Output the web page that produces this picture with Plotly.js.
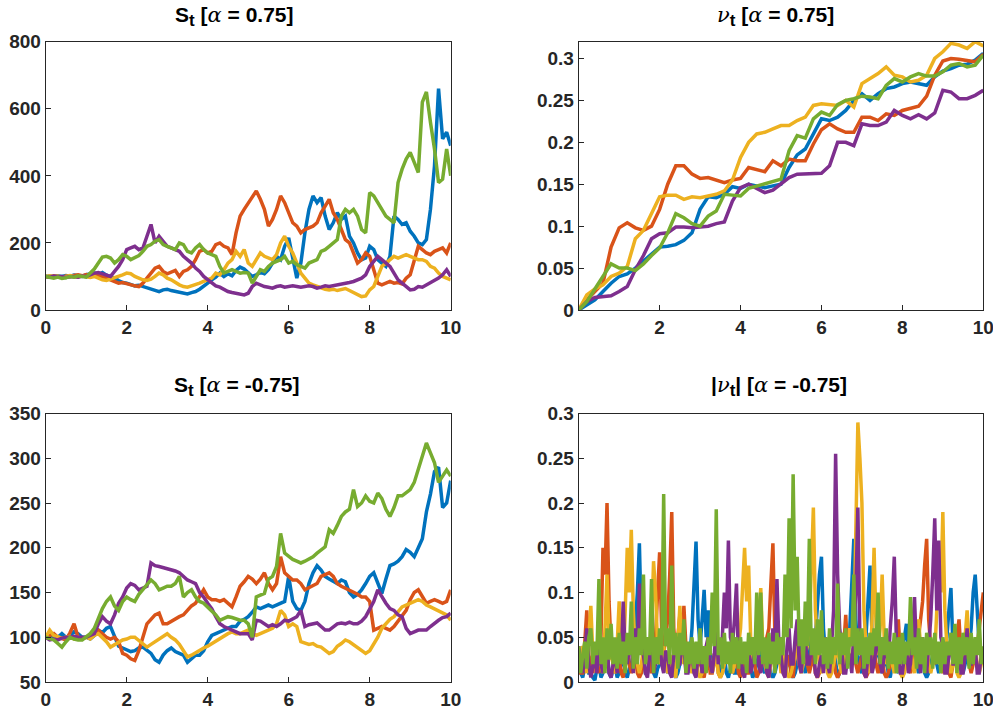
<!DOCTYPE html>
<html><head><meta charset="utf-8">
<script src="https://cdn.plot.ly/plotly-3.0.1.min.js"></script>
<style>html,body{margin:0;padding:0;background:#fff}#chart{width:993px;height:712px}</style>
</head><body><div id="chart"></div>
<script>
// time grid: S panels every 0.1, nu panel every 0.2, |nu| panel every 0.05 (t from 0 to 10)
const seriesNames = ['path 1','path 2','path 3','path 4','path 5'];
const colors = ['#0072BD','#D95319','#EDB120','#7E2F8E','#77AC30'];

// ---- S_t, alpha = 0.75 (dt = 0.1)
const sA_blue = [100,101,99,102,100,103,101,104,102,100,105, 108,110,106,112,104,100,95,88,82,80, 76,72,74,70,68,64,58,55,60,62, 58,56,54,50,48,52,55,62,70,80, 90,98,110,100,108,102,118,128,122,110, 100,105,112,108,120,140,160,150,190,215, 150,95,140,230,300,340,320,335,280,240, 260,290,270,280,220,200,170,150,155,190, 180,150,140,130,160,280,270,255,260,235, 220,200,195,210,300,430,660,510,530,490];
const sA_orange = [100,98,102,100,97,101,99,103,105,102,106, 104,108,102,100,96,90,85,80,82,78, 74,72,70,80,95,110,125,130,115,108, 112,118,100,115,120,130,150,175,180,170, 175,195,200,190,185,165,230,280,300,320, 340,355,330,300,250,270,300,340,320,290, 260,250,230,240,245,250,260,290,310,330, 290,270,240,210,200,170,140,150,170,160, 120,80,75,80,85,80,82,78,95,105, 150,190,180,170,165,175,180,185,170,200];
const sA_yellow = [100,102,99,101,98,100,103,100,98,101,99, 97,100,95,90,88,92,95,100,105,110, 108,100,95,90,88,92,100,110,105,95, 90,82,75,70,68,72,75,80,85,90, 95,110,105,120,140,150,175,160,180,140, 130,150,170,160,155,150,165,200,220,190, 170,140,110,95,80,75,70,65,62,60, 62,58,60,64,58,52,45,40,42,60, 70,100,130,140,150,160,155,160,165,160, 155,150,150,145,130,125,110,100,95,90];
const sA_purple = [100,98,101,99,100,97,99,100,98,101,100, 105,110,112,108,105,100,115,130,150,180, 185,190,180,185,220,255,200,220,205,190, 185,180,175,160,150,140,125,115,100,90, 80,72,68,60,55,52,50,48,45,50, 70,80,75,70,68,65,70,72,68,70, 72,70,68,70,72,70,65,68,72,70, 72,75,78,80,82,85,90,95,105,130, 145,160,150,140,130,110,90,80,70,60, 62,70,68,75,80,88,95,105,120,100];
const sA_green = [100,97,95,98,94,96,100,98,102,100,98, 110,122,140,158,160,155,140,150,165,160, 150,155,162,175,190,195,205,210,195,190, 185,180,200,195,175,170,185,195,180,170, 165,160,130,110,115,120,115,110,112,110, 80,100,120,115,130,140,145,150,160,140, 145,135,130,125,140,145,150,175,180,190, 200,210,280,300,290,300,280,240,230,350, 340,320,300,280,270,260,380,420,450,470, 440,410,620,650,560,480,380,390,480,400];

// ---- nu_t, alpha = 0.75 (dt = 0.2)
const nA_blue = [0,0.006,0.012,0.022,0.032,0.04,0.043,0.05,0.058,0.066,0.075,0.076,0.078,0.083,0.092,0.12,0.135,0.134,0.138,0.147,0.145,0.15,0.148,0.146,0.148,0.15,0.17,0.185,0.192,0.21,0.228,0.226,0.23,0.238,0.25,0.258,0.25,0.258,0.264,0.266,0.27,0.272,0.27,0.268,0.278,0.285,0.288,0.292,0.293,0.298,0.306];
const nA_orange = [0,0.012,0.022,0.032,0.075,0.098,0.104,0.098,0.095,0.1,0.12,0.15,0.172,0.172,0.162,0.157,0.158,0.155,0.152,0.155,0.157,0.17,0.168,0.165,0.178,0.172,0.18,0.178,0.178,0.198,0.215,0.222,0.216,0.212,0.212,0.23,0.23,0.226,0.234,0.232,0.238,0.24,0.243,0.255,0.28,0.297,0.3,0.299,0.298,0.296,0.305];
const nA_yellow = [0,0.018,0.025,0.03,0.04,0.044,0.052,0.085,0.095,0.115,0.135,0.137,0.137,0.132,0.135,0.134,0.136,0.138,0.142,0.155,0.182,0.2,0.21,0.212,0.216,0.22,0.22,0.226,0.23,0.244,0.246,0.245,0.244,0.25,0.242,0.27,0.276,0.282,0.29,0.28,0.278,0.272,0.274,0.28,0.3,0.308,0.318,0.316,0.312,0.32,0.315];
const nA_purple = [0,0.01,0.015,0.016,0.017,0.022,0.028,0.048,0.065,0.085,0.091,0.092,0.099,0.099,0.098,0.099,0.1,0.103,0.105,0.13,0.146,0.15,0.145,0.14,0.143,0.15,0.158,0.162,0.162,0.162,0.163,0.172,0.2,0.2,0.196,0.222,0.22,0.22,0.224,0.238,0.232,0.228,0.233,0.228,0.235,0.262,0.26,0.252,0.252,0.256,0.262];
const nA_green = [0,0.01,0.025,0.04,0.055,0.05,0.05,0.047,0.055,0.065,0.074,0.092,0.115,0.11,0.103,0.1,0.112,0.118,0.138,0.137,0.136,0.145,0.148,0.151,0.153,0.156,0.19,0.208,0.205,0.228,0.236,0.232,0.245,0.25,0.252,0.255,0.254,0.252,0.268,0.276,0.272,0.278,0.282,0.279,0.279,0.284,0.292,0.294,0.29,0.292,0.304];

// ---- S_t, alpha = -0.75 (dt = 0.1)
const sB_blue = [100,98,102,100,104,100,102,106,104,100,100, 98,102,108,105,110,112,100,90,88,86, 84,85,88,89,86,82,75,72,80,85, 88,84,82,80,72,76,80,80,85,95, 102,104,106,108,110,112,112,118,120,123, 128,134,132,134,136,134,136,138,140,168, 140,132,130,140,160,172,180,175,168,165, 162,160,164,162,150,145,148,153,160,168, 172,160,149,165,180,182,185,190,198,195, 190,200,210,240,260,285,290,245,250,275];
const sB_orange = [100,102,104,100,98,97,105,115,100,98,100, 102,105,108,104,100,98,100,95,82,80, 76,74,85,100,115,120,125,127,115,115, 118,120,123,125,130,135,138,145,153,145, 142,142,140,142,138,134,145,157,162,168, 165,160,165,172,160,153,160,190,172,168, 164,164,160,153,155,157,160,168,170,172, 168,160,157,155,153,150,148,145,145,140, 108,110,112,110,108,112,118,123,130,142, 150,153,145,138,140,142,140,138,140,153];
const sB_yellow = [100,108,102,100,99,100,101,98,100,99,100, 98,102,104,100,95,89,92,95,97,98, 100,100,96,92,89,92,95,97,100,104, 100,97,92,85,78,80,83,85,88,90, 93,95,98,102,104,106,104,104,106,108, 104,102,104,106,108,110,115,130,125,112, 115,112,95,93,92,93,90,89,85,82, 84,90,93,97,95,92,89,85,82,85, 93,100,110,115,120,123,128,134,136,138, 140,142,140,136,134,132,130,128,125,119];
const sB_purple = [100,97,98,97,99,100,100,101,100,100,100, 102,104,115,123,118,115,125,138,145,155, 160,158,153,155,157,183,180,179,178,176, 175,174,172,168,164,162,160,150,145,138, 132,123,115,112,110,108,106,104,104,104, 97,119,118,115,112,114,112,115,119,118, 120,123,130,112,114,115,116,112,108,108, 112,115,116,115,117,115,115,118,123,132, 140,153,145,138,132,130,125,123,110,104, 106,108,108,108,112,116,119,122,123,127];
const sB_green = [100,98,97,93,89,95,100,98,97,97,100, 104,110,122,132,140,145,135,130,140,145, 142,140,148,153,158,164,160,153,155,157, 157,160,168,145,150,153,145,140,138,134, 130,125,119,121,123,122,121,119,119,115, 100,145,147,149,165,168,179,216,194,190, 187,185,183,185,187,190,194,198,201,220, 216,225,235,240,243,265,246,250,258,252, 250,261,255,243,235,245,258,258,262,265, 273,287,300,317,306,295,273,280,287,280];

// ---- |nu_t|, alpha = -0.75 (dt = 0.05), 20 values per time unit
const nB_blue = [
0.02,0.01,0.005,0.02,0.03,0.01,0.01,0.005,0.002,0.015,0.02,0.005,0.01,0.02,0.035,0.01,0.005,0.015,0.02,0.005,
0.01,0.02,0.03,0.01,0.005,0.015,0.02,0.03,0.06,0.1,0.155,0.06,0.03,0.01,0.01,0.02,0.025,0.01,0.005,0.015,
0.02,0.03,0.04,0.02,0.01,0.02,0.03,0.01,0.005,0.01,0.02,0.03,0.045,0.02,0.01,0.03,0.06,0.11,0.157,0.07,
0.04,0.07,0.103,0.05,0.08,0.03,0.02,0.03,0.04,0.02,0.01,0.02,0.03,0.01,0.005,0.015,0.025,0.01,0.01,0.02,
0.03,0.015,0.01,0.02,0.04,0.015,0.005,0.01,0.02,0.03,0.035,0.015,0.01,0.02,0.03,0.01,0.005,0.01,0.02,0.03,
0.04,0.02,0.01,0.02,0.03,0.01,0.005,0.01,0.02,0.03,0.04,0.02,0.01,0.03,0.05,0.03,0.02,0.05,0.09,0.12,
0.14,0.06,0.03,0.015,0.01,0.02,0.04,0.02,0.005,0.01,0.02,0.03,0.04,0.05,0.06,0.11,0.16,0.07,0.03,0.015,
0.01,0.03,0.05,0.09,0.13,0.05,0.02,0.03,0.04,0.02,0.01,0.02,0.03,0.01,0.005,0.02,0.03,0.015,0.01,0.03,
0.04,0.05,0.065,0.03,0.02,0.03,0.04,0.02,0.01,0.02,0.03,0.01,0.005,0.01,0.02,0.03,0.04,0.02,0.01,0.02,
0.03,0.04,0.05,0.08,0.105,0.04,0.02,0.03,0.04,0.02,0.01,0.02,0.03,0.04,0.06,0.1,0.12,0.07,0.04,0.03,
0.02];
const nB_orange = [
0.03,0.01,0.01,0.05,0.08,0.03,0.02,0.01,0.04,0.02,0.01,0.05,0.15,0.12,0.2,0.09,0.04,0.02,0.01,0.02,
0.03,0.01,0.005,0.02,0.04,0.02,0.01,0.02,0.03,0.01,0.005,0.01,0.02,0.03,0.04,0.02,0.01,0.02,0.05,0.1,
0.145,0.06,0.03,0.05,0.07,0.12,0.19,0.06,0.03,0.05,0.075,0.04,0.085,0.04,0.02,0.03,0.04,0.02,0.01,0.02,
0.03,0.01,0.005,0.02,0.03,0.01,0.01,0.03,0.04,0.01,0.005,0.01,0.02,0.03,0.04,0.02,0.01,0.02,0.03,0.01,
0.005,0.02,0.03,0.01,0.01,0.03,0.04,0.02,0.005,0.01,0.02,0.03,0.04,0.05,0.06,0.11,0.155,0.05,0.02,0.03,
0.04,0.02,0.01,0.02,0.03,0.01,0.005,0.03,0.06,0.03,0.02,0.03,0.04,0.02,0.01,0.02,0.03,0.01,0.005,0.01,
0.02,0.03,0.04,0.02,0.01,0.02,0.03,0.01,0.005,0.01,0.02,0.04,0.075,0.03,0.02,0.03,0.04,0.02,0.01,0.02,
0.03,0.01,0.005,0.01,0.02,0.03,0.04,0.02,0.01,0.02,0.03,0.01,0.005,0.01,0.02,0.03,0.04,0.05,0.07,0.03,
0.02,0.03,0.04,0.02,0.01,0.02,0.03,0.04,0.05,0.07,0.09,0.13,0.16,0.07,0.04,0.03,0.02,0.03,0.04,0.02,
0.01,0.02,0.03,0.01,0.005,0.02,0.04,0.05,0.07,0.03,0.02,0.03,0.04,0.02,0.01,0.02,0.03,0.04,0.06,0.08,
0.1];
const nB_yellow = [
0.02,0.03,0.04,0.02,0.01,0.05,0.085,0.03,0.02,0.03,0.04,0.02,0.01,0.06,0.12,0.05,0.03,0.02,0.01,0.04,
0.09,0.04,0.02,0.08,0.15,0.1,0.17,0.08,0.03,0.02,0.01,0.02,0.04,0.03,0.02,0.03,0.06,0.135,0.1,0.04,
0.02,0.03,0.04,0.02,0.01,0.02,0.03,0.01,0.005,0.04,0.085,0.04,0.02,0.03,0.04,0.02,0.01,0.02,0.03,0.01,
0.005,0.01,0.02,0.03,0.04,0.02,0.01,0.02,0.03,0.01,0.005,0.01,0.02,0.03,0.04,0.02,0.01,0.02,0.03,0.04,
0.06,0.1,0.15,0.09,0.13,0.05,0.02,0.03,0.04,0.07,0.105,0.04,0.02,0.01,0.005,0.02,0.03,0.04,0.06,0.03,
0.01,0.02,0.03,0.01,0.005,0.01,0.02,0.03,0.04,0.02,0.01,0.02,0.03,0.04,0.06,0.12,0.195,0.08,0.04,0.02,
0.01,0.02,0.03,0.01,0.005,0.01,0.02,0.03,0.04,0.02,0.01,0.02,0.03,0.04,0.06,0.04,0.05,0.15,0.29,0.25,
0.2,0.08,0.04,0.02,0.01,0.07,0.15,0.06,0.03,0.06,0.12,0.05,0.02,0.03,0.04,0.02,0.01,0.02,0.03,0.01,
0.005,0.01,0.02,0.03,0.04,0.02,0.01,0.04,0.07,0.04,0.02,0.03,0.04,0.02,0.01,0.02,0.03,0.08,0.145,0.1,
0.19,0.08,0.04,0.02,0.01,0.02,0.03,0.01,0.005,0.01,0.02,0.05,0.08,0.04,0.02,0.03,0.04,0.02,0.01,0.02,
0.03];
const nB_purple = [
0.04,0.02,0.01,0.03,0.06,0.02,0.005,0.02,0.03,0.01,0.05,0.02,0.01,0.03,0.04,0.01,0.005,0.02,0.03,0.01,
0.05,0.02,0.09,0.03,0.02,0.04,0.04,0.01,0.06,0.03,0.11,0.04,0.03,0.01,0.005,0.03,0.04,0.01,0.02,0.04,
0.05,0.02,0.01,0.035,0.03,0.01,0.005,0.03,0.05,0.02,0.02,0.04,0.04,0.01,0.01,0.03,0.03,0.01,0.005,0.03,
0.04,0.01,0.02,0.04,0.05,0.02,0.01,0.03,0.06,0.02,0.03,0.05,0.1,0.06,0.158,0.05,0.04,0.07,0.11,0.02,
0.03,0.01,0.005,0.03,0.04,0.01,0.02,0.04,0.05,0.02,0.01,0.03,0.04,0.01,0.005,0.03,0.06,0.03,0.115,0.04,
0.03,0.01,0.005,0.04,0.06,0.02,0.02,0.05,0.07,0.02,0.01,0.04,0.05,0.02,0.02,0.04,0.04,0.01,0.005,0.02,
0.03,0.01,0.05,0.02,0.01,0.04,0.08,0.255,0.12,0.06,0.04,0.01,0.01,0.03,0.03,0.01,0.06,0.1,0.195,0.05,
0.03,0.01,0.005,0.03,0.04,0.01,0.02,0.04,0.05,0.02,0.01,0.03,0.04,0.02,0.06,0.09,0.14,0.05,0.03,0.01,
0.01,0.03,0.04,0.01,0.02,0.05,0.095,0.03,0.03,0.01,0.05,0.02,0.01,0.04,0.07,0.12,0.183,0.08,0.158,0.05,
0.04,0.01,0.01,0.03,0.05,0.02,0.02,0.04,0.04,0.01,0.01,0.03,0.06,0.02,0.02,0.04,0.04,0.01,0.01,0.03,
0.03];
const nB_green = [
0.04,0.01,0.03,0.045,0.015,0.05,0.06,0.02,0.045,0.03,0.115,0.02,0.05,0.01,0.06,0.025,0.065,0.02,0.05,0.015,
0.055,0.02,0.045,0.01,0.055,0.03,0.09,0.015,0.05,0.02,0.06,0.03,0.12,0.02,0.05,0.03,0.115,0.01,0.05,0.02,
0.06,0.03,0.21,0.04,0.06,0.02,0.13,0.03,0.055,0.015,0.055,0.03,0.07,0.01,0.045,0.02,0.05,0.015,0.045,0.02,
0.06,0.02,0.04,0.01,0.05,0.03,0.1,0.04,0.193,0.03,0.05,0.015,0.055,0.02,0.045,0.01,0.055,0.02,0.05,0.015,
0.05,0.02,0.045,0.01,0.055,0.03,0.05,0.02,0.1,0.03,0.1,0.02,0.05,0.015,0.055,0.02,0.045,0.01,0.055,0.02,
0.05,0.03,0.12,0.05,0.183,0.06,0.232,0.08,0.14,0.04,0.07,0.02,0.09,0.04,0.16,0.03,0.06,0.02,0.07,0.03,
0.08,0.02,0.05,0.015,0.06,0.02,0.05,0.03,0.11,0.02,0.055,0.03,0.06,0.015,0.05,0.04,0.12,0.02,0.06,0.03,
0.06,0.015,0.05,0.02,0.055,0.03,0.06,0.04,0.1,0.02,0.05,0.03,0.06,0.015,0.045,0.02,0.055,0.01,0.05,0.02,
0.055,0.02,0.045,0.03,0.095,0.03,0.05,0.015,0.06,0.02,0.05,0.01,0.055,0.03,0.05,0.015,0.055,0.02,0.045,0.01,
0.05,0.02,0.045,0.03,0.055,0.02,0.065,0.01,0.05,0.02,0.055,0.03,0.05,0.015,0.055,0.02,0.05,0.03,0.07,0.02,
0.04];

const panels = [
  {ax:'', data:[sA_blue,sA_orange,sA_yellow,sA_purple,sA_green], dt:0.1},
  {ax:'2', data:[nA_blue,nA_orange,nA_yellow,nA_purple,nA_green], dt:0.2},
  {ax:'3', data:[sB_blue,sB_orange,sB_yellow,sB_purple,sB_green], dt:0.1},
  {ax:'4', data:[nB_blue,nB_orange,nB_yellow,nB_purple,nB_green], dt:0.05}
];

const traces = [];
panels.forEach(p => {
  p.data.forEach((ys, i) => {
    traces.push({
      type:'scatter', mode:'lines', y: ys, x0: 0, dx: p.dt,
      xaxis:'x'+p.ax, yaxis:'y'+p.ax, name: seriesNames[i],
      line:{color: colors[i], width: 3.5}, showlegend:false, hoverinfo:'skip'
    });
  });
});

const W = 993, H = 712;
const tickFont = {family:'"Liberation Sans", Arial, sans-serif', size:19, color:'#262626', weight:'bold'};
function axis(domain, range, tickvals, ticktext, anchor){
  return {domain: domain, range: range, tickvals: tickvals, ticktext: ticktext, anchor: anchor,
    showline:true, mirror:true, linecolor:'#262626', linewidth:1, ticks:'inside', ticklen:5,
    tickcolor:'#262626', tickwidth:1, showgrid:false, zeroline:false, tickfont: tickFont,
    ticklabeloverflow:'allow', fixedrange:true};
}
const xL = [45.7/W, 450.7/W], xR = [578.7/W, 983.3/W];
const yT = [(H-310)/H, (H-41.7)/H], yB = [(H-682)/H, (H-413.5)/H];
const xtFull = [0,2,4,6,8,10], xtR = [2,4,6,8,10];

const titleFont = {family:'"Liberation Sans", Arial, sans-serif', size:21, color:'#000', weight:'bold'};
const greek = (g) => '<span style="font-family:\'DejaVu Serif\',serif;font-weight:normal;font-style:italic">' + g + '</span>';
const subT = '<sub><span style="font-size:17px">t</span></sub>';
function ttl(text, xpx, ypx){
  return {text:text, x:xpx/W, y:(H-ypx)/H, xref:'paper', yref:'paper', xanchor:'center', yanchor:'middle', showarrow:false, font:titleFont};
}

const layout = {
  width:W, height:H, margin:{l:0,r:0,t:0,b:0}, paper_bgcolor:'#fff', plot_bgcolor:'#fff', showlegend:false,
  xaxis: axis(xL, [0,10], xtFull, xtFull.map(String), 'y'),
  yaxis: axis(yT, [0,800], [0,200,400,600,800], ['0','200','400','600','800'], 'x'),
  xaxis2: axis(xR, [0,10], xtR, xtR.map(String), 'y2'),
  yaxis2: axis(yT, [0,0.32], [0,0.05,0.1,0.15,0.2,0.25,0.3], ['0','0.05','0.1','0.15','0.2','0.25','0.3'], 'x2'),
  xaxis3: axis(xL, [0,10], xtFull, xtFull.map(String), 'y3'),
  yaxis3: axis(yB, [50,350], [50,100,150,200,250,300,350], ['50','100','150','200','250','300','350'], 'x3'),
  xaxis4: axis(xR, [0,10], xtR, xtR.map(String), 'y4'),
  yaxis4: axis(yB, [0,0.3], [0,0.05,0.1,0.15,0.2,0.25,0.3], ['0','0.05','0.1','0.15','0.2','0.25','0.3'], 'x4'),
  annotations: [
    ttl('S' + subT + ' [' + greek('α') + ' = 0.75]', 234, 16),
    ttl(greek('ν') + subT + ' [' + greek('α') + ' = 0.75]', 775, 16),
    ttl('S' + subT + ' [' + greek('α') + ' = -0.75]', 237, 386),
    ttl('|' + greek('ν') + subT + '| [' + greek('α') + ' = -0.75]', 779, 386)
  ]
};
Plotly.newPlot('chart', traces, layout, {displayModeBar:false, staticPlot:true});
</script>
</body></html>
